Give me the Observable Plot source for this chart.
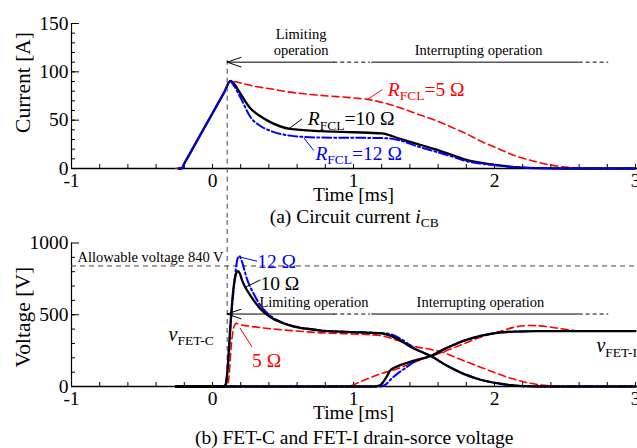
<!DOCTYPE html>
<html><head><meta charset="utf-8">
<script src="https://cdn.jsdelivr.net/npm/d3@7"></script>
<script src="https://cdn.jsdelivr.net/npm/@observablehq/plot@0.6"></script>
<style>
body{margin:0;background:#fff;}
#wrap{position:relative;width:637px;height:448px;overflow:hidden;font-family:"Liberation Serif",serif;}
#wrap svg{position:absolute;left:0;background:transparent;overflow:visible;font-family:"Liberation Serif",serif;}
#wrap svg text{font-family:"Liberation Serif",serif;}
</style></head><body><div id="wrap"></div>
<script>
// ---------- (a) circuit current i_CB [A] vs time [ms] ----------
const tI5  = [-0.26,-0.22,-0.2,-0.1,0,0.08,0.128,0.2,0.3,0.41,0.55,0.77,1.0,1.1,1.2,1.33,1.45,1.57,1.7,1.8,1.9,2.04,2.15,2.28,2.4,2.5,2.6,2.7,3.0];
const iCB5 = [0,0,5.2,31.2,57.2,78,90.5,88.5,85,82.5,79,75.6,73,71.5,68.5,62.8,56.5,50.4,42.5,35.9,28.5,19.7,13,7.6,3.5,1.5,0.4,0,0];
const tI10  = [-0.24,-0.22,-0.2,-0.1,0,0.08,0.128,0.15,0.2,0.27,0.34,0.41,0.55,0.77,1.0,1.2,1.33,1.45,1.57,1.69,1.8,1.92,2.0,2.1,2.2,2.35,2.5,3.0];
const iCB10 = [0,0,5.2,31.2,57.2,78,90.5,88,77,62,54,48,41,38.6,37.5,36.3,30.7,25.5,20.3,14.5,9,5.5,3.8,2,1,0.3,0,0];
const tI12  = [-0.24,-0.22,-0.2,-0.1,0,0.08,0.128,0.15,0.2,0.27,0.34,0.41,0.55,0.77,1.0,1.24,1.33,1.45,1.57,1.69,1.8,1.92,2.04,2.16,2.3,2.5,3.0];
const iCB12 = [0,0,5.2,31.2,57.2,78,90,86,73,53,44,39,34,32,31.8,31.3,29,23.1,17.9,12.8,7.6,4.8,2.8,1.4,0.4,0,0];

// ---------- (b) drain-source voltages [V] ----------
const tC10 = [-0.26,0.08,0.095,0.104,0.128,0.147,0.165,0.18,0.195,0.21,0.246,0.293,0.34,0.411,0.482,0.577,0.695,0.766,0.9,1.05,1.19,1.25,1.31,1.43,1.55,1.66,1.78,1.9,2.02,2.12,2.21,2.35,3.0];
const vC10 = [0,0,20,90,439,669,780,804,785,739,669,599,541,483,448,418,399,390,382,377,371,358,332,263,212,146,88,47,23,9,2,0,0];
const tC12 = [-0.26,0.09,0.11,0.13,0.155,0.175,0.19,0.205,0.246,0.293,0.34,0.411,0.482,0.577,0.695,0.766,0.9,1.05,1.2,1.27,1.33,1.43,1.55,1.66,1.78,1.9,2.02,2.12,2.21,2.35,3.0];
const vC12 = [0,0,150,450,720,880,910,880,745,645,565,492,452,420,400,391,383,378,373,362,335,268,210,148,90,48,22,8,2,0,0];
const tC5 = [-0.26,0.1,0.115,0.13,0.15,0.17,0.194,0.25,0.34,0.46,0.58,0.77,0.84,1.0,1.19,1.31,1.43,1.55,1.63,1.78,1.9,2.02,2.14,2.25,2.37,2.49,3.0];
const vC5 = [0,0,50,250,410,440,432,422,410,398,388,374,371,366,355,322,280,258,239,180,135,90,50,23,7,0,0];
const tI_10 = [-0.26,1.15,1.19,1.23,1.26,1.31,1.43,1.55,1.66,1.78,1.9,2.02,2.14,2.3,3.0];
const vI_10 = [0,0,10,60,111,140,180,214,268,318,352,374,383,386,386];
const tI_12 = [-0.26,1.19,1.23,1.27,1.31,1.37,1.43,1.55,1.66,1.78,1.9,2.02,2.14,2.3,3.0];
const vI_12 = [0,0,15,55,88,130,171,214,268,318,352,374,383,386,386];
const tI_5 = [-0.26,0.95,1.07,1.19,1.31,1.43,1.55,1.63,1.78,1.9,2.02,2.14,2.25,2.37,2.49,2.6,2.7,3.0];
const vI_5 = [0,0,42,88,123,169,212,239,297,344,378,413,425,418,400,388,385,385];

// ---------- axes / ticks ----------
const xTickValues = [-1,0,1,2,3];
const xTickLabels = ["-1","0","1","2","3"];
const curTickValues = [0,50,100,150];
const curTickLabels = ["0","50","100","150"];
const voltTickValues = [0,500,1000];
const voltTickLabels = ["0","500","1000"];
const xMinor = d3.range(-1, 3.001, 0.2);
const curMinor = d3.range(10, 150, 10);
const voltMinor = d3.range(100, 1000, 100);

// ---------- annotations ----------
const tLimitStart = 0.104;
const allowableV = 840;
const opSegs = [[0.86,1.12,true],[1.13,2.6,false],[2.6,2.81,true]];

const RED = "#ff0000", BLUE = "#0000ff", BLACK = "#000";
const FONT = "Liberation Serif";
const zip = (t, v) => t.map((x, i) => ({t: x, v: v[i]}));
const T = (data, opts) => Plot.text(data, {fontFamily: FONT, fill: BLACK, ...opts});

const RICH = {
  "RFCL=5 Ω": [{t:"R",i:1},{t:"FCL",sub:1},{t:"=5 Ω"}],
  "RFCL=10 Ω": [{t:"R",i:1},{t:"FCL",sub:1},{t:"=10 Ω"}],
  "RFCL=12 Ω": [{t:"R",i:1},{t:"FCL",sub:1},{t:"=12 Ω"}],
  "vFET-C": [{t:"v",i:1},{t:"FET-C",sub:1}],
  "vFET-I": [{t:"v",i:1},{t:"FET-I",sub:1}],
  "(a) Circuit current iCB": [{t:"(a) Circuit current "},{t:"i",i:1},{t:"CB",sub:1}]
};
function richify(svg){
  svg.querySelectorAll("text").forEach(el => {
    const segs = RICH[el.textContent];
    if (!segs) return;
    el.textContent = "";
    let shift = 0;
    for (const s of segs) {
      const ts = document.createElementNS("http://www.w3.org/2000/svg", "tspan");
      ts.textContent = s.t;
      if (s.i) ts.setAttribute("font-style", "italic");
      const want = s.sub ? 4.5 : 0;
      if (want !== shift) { ts.setAttribute("dy", want - shift); shift = want; }
      if (s.sub) ts.setAttribute("font-size", "13.5");
      el.appendChild(ts);
    }
  });
}

function axisMarks(yMinor, yMajor, yMax, pxPerUnitY, tickVals, tickLabels) {
  const pxX = 564 / 4;
  return [
    Plot.ruleY([0], {x1: -1, x2: 3.02, stroke: BLACK, strokeWidth: 1.3}),
    Plot.ruleX([-1], {y1: 0, y2: yMax, stroke: BLACK, strokeWidth: 1.2}),
    Plot.ruleX(xMinor, {x: d => d, y1: 0, y2: 4 / pxPerUnitY, stroke: BLACK, strokeWidth: 1}),
    Plot.ruleY(yMinor, {y: d => d, x1: -1, x2: -1 + 4 / pxX, stroke: BLACK, strokeWidth: 1}),
    Plot.ruleY(yMajor, {y: d => d, x1: -1, x2: -1 + 8 / pxX, stroke: BLACK, strokeWidth: 1}),
    T(xTickValues, {x: d => d, y: 0, text: (d, i) => xTickLabels[i], dy: 12, lineAnchor: "middle", fontSize: 19.5}),
    T(tickVals, {x: -1, y: d => d, text: (d, i) => tickLabels[i], dx: -3, textAnchor: "end", lineAnchor: "middle", fontSize: 19.5}),
    T(["Time [ms]"], {x: 1, y: 0, dy: 32.5, lineAnchor: "bottom", fontSize: 19.5})
  ];
}

function opMarks(y, limitY, interY, twoLine) {
  return [
    Plot.arrow([{x1: 0.86, x2: tLimitStart}], {x1: "x1", x2: "x2", y1: y, y2: y, headLength: 22, headAngle: 38, stroke: BLACK, strokeWidth: 1}),
    Plot.ruleY(opSegs.filter(s => s[2]).map(s => ({x1: s[0], x2: s[1], y})), {x1: "x1", x2: "x2", y: "y", stroke: BLACK, strokeWidth: 1, strokeDasharray: "4,3"}),
    Plot.ruleY(opSegs.filter(s => !s[2]).map(s => ({x1: s[0], x2: s[1], y})), {x1: "x1", x2: "x2", y: "y", stroke: BLACK, strokeWidth: 1}),
    T([twoLine ? "Limiting\noperation" : "Limiting operation"], {x: twoLine ? 0.628 : 0.72, y: limitY, lineAnchor: "bottom", lineHeight: 1.1, fontSize: 14.5}),
    T(["Interrupting operation"], {x: twoLine ? 1.887 : 1.9, y: interY, lineAnchor: "bottom", fontSize: 14.5})
  ];
}

const base = {width: 637, marginLeft: 71, marginRight: 2, style: {fontFamily: FONT, background: "transparent", overflow: "visible", color: "#000"}};

// ---------- top plot ----------
const pxA = 145 / 150;
const topPlot = Plot.plot({
  ...base,
  height: 230, marginTop: 23, marginBottom: 62,
  x: {domain: [-1, 3], axis: null},
  y: {domain: [0, 150], axis: null},
  marks: [
    ...axisMarks(curMinor, [50, 100, 150], 150, pxA, curTickValues, curTickLabels),
    Plot.ruleX([tLimitStart], {y1: 112, y2: -54, stroke: "#444", strokeWidth: 1, strokeDasharray: "5,4"}),
    ...opMarks(110, 117.4, 117.4, true),
    Plot.line(zip(tI5, iCB5), {x: "t", y: "v", stroke: RED, strokeWidth: 1.6, strokeDasharray: "7,4", curve: "monotone-x"}),
    Plot.line(zip(tI10, iCB10), {x: "t", y: "v", stroke: BLACK, strokeWidth: 2.3, curve: "monotone-x"}),
    Plot.line(zip(tI12, iCB12), {x: "t", y: "v", stroke: BLUE, strokeWidth: 2, strokeDasharray: "9,3,2,3", curve: "monotone-x"}),
    Plot.link([{x1: 1.097, y1: 71.2, x2: 1.204, y2: 81.6}], {x1: "x1", y1: "y1", x2: "x2", y2: "y2", stroke: RED, strokeWidth: 1}),
    Plot.link([{x1: 0.541, y1: 41, x2: 0.636, y2: 51.4}], {x1: "x1", y1: "y1", x2: "x2", y2: "y2", stroke: BLACK, strokeWidth: 1}),
    Plot.link([{x1: 0.648, y1: 31.7, x2: 0.718, y2: 18.6}], {x1: "x1", y1: "y1", x2: "x2", y2: "y2", stroke: BLUE, strokeWidth: 1}),
    T(["RFCL=5 Ω"], {x: 1.243, y: 75.5, textAnchor: "start", lineAnchor: "bottom", fontSize: 19.5, fill: RED}),
    T(["RFCL=10 Ω"], {x: 0.676, y: 44.5, textAnchor: "start", lineAnchor: "bottom", fontSize: 19.5}),
    T(["RFCL=12 Ω"], {x: 0.73, y: 9, textAnchor: "start", lineAnchor: "bottom", fontSize: 19.5, fill: BLUE}),
    T(["Current [A]"], {x: -1, y: 89, dx: -48, rotate: -90, lineAnchor: "middle", fontSize: 21.5}),
    T(["(a) Circuit current iCB"], {x: 1.005, y: 0, dy: 54, lineAnchor: "bottom", fontSize: 19.5})
  ]
});

// ---------- bottom plot ----------
const pxV = 143.5 / 1000;
const botPlot = Plot.plot({
  ...base,
  height: 228, marginTop: 22.5, marginBottom: 62,
  x: {domain: [-1, 3], axis: null},
  y: {domain: [0, 1000], axis: null},
  marks: [
    ...axisMarks(voltMinor, [500, 1000], 1000, pxV, voltTickValues, voltTickLabels),
    Plot.ruleX([tLimitStart], {y1: 1157, y2: 20, stroke: "#444", strokeWidth: 1, strokeDasharray: "5,4"}),
    Plot.ruleY([allowableV], {x1: -1, x2: 3.02, stroke: "#444", strokeWidth: 1, strokeDasharray: "5,4"}),
    T(["Allowable voltage 840 V"], {x: -0.957, y: 871, textAnchor: "start", lineAnchor: "bottom", fontSize: 14.5}),
    ...opMarks(505, 554, 554, false),
    Plot.line(zip(tC5, vC5), {x: "t", y: "v", stroke: RED, strokeWidth: 1.6, strokeDasharray: "7,4", curve: "monotone-x"}),
    Plot.line(zip(tI_5, vI_5), {x: "t", y: "v", stroke: RED, strokeWidth: 1.6, strokeDasharray: "7,4", curve: "monotone-x"}),
    Plot.line(zip(tC12, vC12), {x: "t", y: "v", stroke: BLUE, strokeWidth: 2, strokeDasharray: "9,3,2,3", curve: "monotone-x"}),
    Plot.line(zip(tI_12, vI_12), {x: "t", y: "v", stroke: BLUE, strokeWidth: 2, strokeDasharray: "9,3,2,3", curve: "monotone-x"}),
    Plot.line(zip(tC10, vC10), {x: "t", y: "v", stroke: BLACK, strokeWidth: 2.3, curve: "monotone-x"}),
    Plot.line(zip(tI_10, vI_10), {x: "t", y: "v", stroke: BLACK, strokeWidth: 2.3, curve: "monotone-x"}),
    Plot.link([{x1: 0.199, y1: 901, x2: 0.317, y2: 873}], {x1: "x1", y1: "y1", x2: "x2", y2: "y2", stroke: BLUE, strokeWidth: 1}),
    Plot.link([{x1: 0.234, y1: 692, x2: 0.34, y2: 743}], {x1: "x1", y1: "y1", x2: "x2", y2: "y2", stroke: BLACK, strokeWidth: 1}),
    Plot.link([{x1: 0.194, y1: 409, x2: 0.281, y2: 274}], {x1: "x1", y1: "y1", x2: "x2", y2: "y2", stroke: RED, strokeWidth: 1}),
    T(["12 Ω"], {x: 0.317, y: 829, textAnchor: "start", lineAnchor: "bottom", fontSize: 19.5, fill: BLUE}),
    T(["10 Ω"], {x: 0.34, y: 669, textAnchor: "start", lineAnchor: "bottom", fontSize: 19.5}),
    T(["5 Ω"], {x: 0.281, y: 139, textAnchor: "start", lineAnchor: "bottom", fontSize: 19.5, fill: RED}),
    T(["vFET-C"], {x: -0.312, y: 320.5, textAnchor: "start", lineAnchor: "bottom", fontSize: 20}),
    T(["vFET-I"], {x: 2.723, y: 239, textAnchor: "start", lineAnchor: "bottom", fontSize: 20}),
    T(["Voltage [V]"], {x: -1, y: 483, dx: -48, rotate: -90, lineAnchor: "middle", fontSize: 21.5}),
    T(["(b) FET-C and FET-I drain-sorce voltage"], {x: 1.005, y: 0, dy: 57, lineAnchor: "bottom", fontSize: 19.5})
  ]
});

richify(topPlot); richify(botPlot);
topPlot.style.top = "0px";
botPlot.style.top = "220px";
const wrap = document.getElementById("wrap");
wrap.appendChild(botPlot);
wrap.appendChild(topPlot);
</script></body></html>
